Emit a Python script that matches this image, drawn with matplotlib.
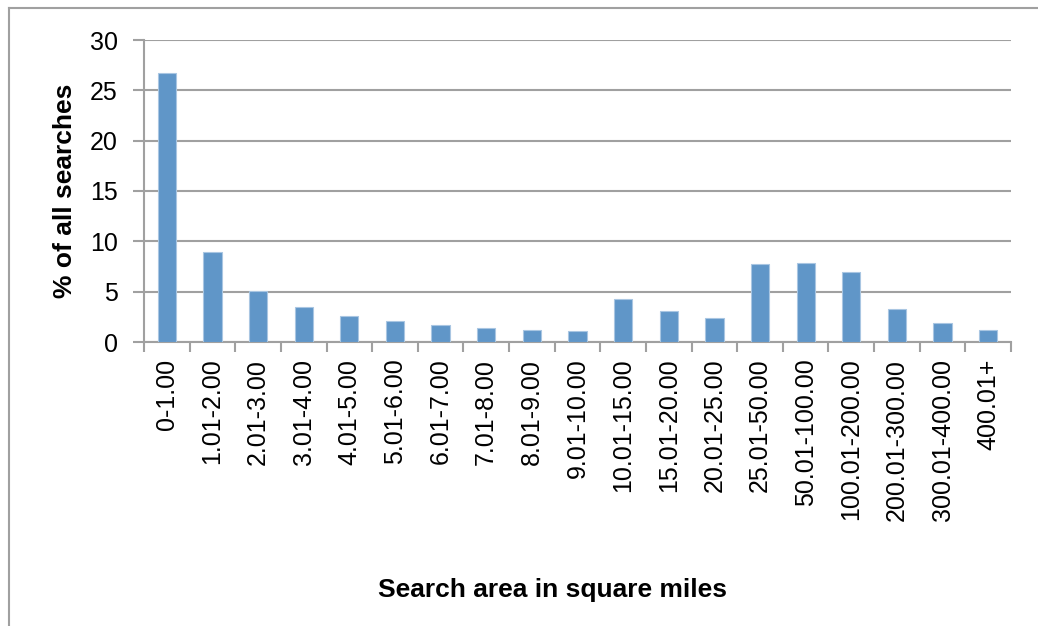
import matplotlib
matplotlib.use("Agg")
import matplotlib.pyplot as plt
from matplotlib.lines import Line2D

categories = [
    "0-1.00", "1.01-2.00", "2.01-3.00", "3.01-4.00", "4.01-5.00",
    "5.01-6.00", "6.01-7.00", "7.01-8.00", "8.01-9.00", "9.01-10.00",
    "10.01-15.00", "15.01-20.00", "20.01-25.00", "25.01-50.00",
    "50.01-100.00", "100.01-200.00", "200.01-300.00", "300.01-400.00",
    "400.01+",
]
percent = [26.7, 8.9, 5.1, 3.45, 2.6, 2.06, 1.7, 1.43, 1.23, 1.1,
           4.28, 3.03, 2.39, 7.74, 7.8, 7.0, 3.23, 1.86, 1.23]
yticks = [0, 5, 10, 15, 20, 25, 30]

plt.rcParams["font.family"] = ["Liberation Sans", "DejaVu Sans"]

W, H = 1038, 626
fig = plt.figure(figsize=(W / 100, H / 100), dpi=100)
ax = fig.add_axes([144 / W, 1 - 342 / H, 867 / W, 302 / H])

grid_c = "#A0A0A0"
x = list(range(len(categories)))
ax.bar(x, percent, width=0.4, color="#6096C8", edgecolor="#A9C6E2",
       linewidth=0.8, zorder=3)

ax.set_xlim(-0.5, len(categories) - 0.5)
ax.set_ylim(0, 30)
ax.set_yticks(yticks)
ax.set_yticklabels([str(t) for t in yticks], fontsize=18)
ax.yaxis.grid(True, color=grid_c, linewidth=1.5, zorder=0)

# category labels centred on bars, tick marks on category boundaries
ax.set_xticks(x)
ax.set_xticklabels(categories, rotation=90, fontsize=18)
ax.tick_params(axis="x", which="major", length=0, pad=12)
ax.set_xticks([i - 0.5 for i in range(len(categories) + 1)], minor=True)
ax.tick_params(axis="x", which="minor", length=7, width=1.5, color=grid_c,
               direction="out")
ax.tick_params(axis="y", length=8, width=1.5, color=grid_c, pad=11)

for s in ["top", "right"]:
    ax.spines[s].set_visible(False)
for s in ["left", "bottom"]:
    ax.spines[s].set_color(grid_c)
    ax.spines[s].set_linewidth(1.5)

ax.set_ylabel("% of all searches", fontsize=19, fontweight="bold")
ax.yaxis.set_label_coords(-0.077, 0.5)
fig.text(553 / W, 1 - 590 / H, "Search area in square miles",
         fontsize=19, fontweight="bold", ha="center", va="center")

# chart area border (left and top visible)
fig.add_artist(Line2D([9 / W, 9 / W], [0, 1 - 8 / H], color=grid_c,
                      linewidth=1.5, transform=fig.transFigure))
fig.add_artist(Line2D([9 / W, 1], [1 - 8 / H, 1 - 8 / H], color=grid_c,
                      linewidth=1.5, transform=fig.transFigure))

fig.savefig("out.png", dpi=100)
